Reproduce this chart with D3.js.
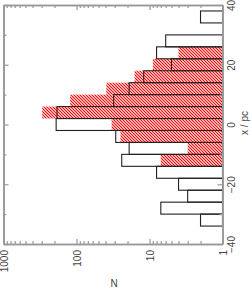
<!DOCTYPE html>
<html>
<head>
<meta charset="utf-8">
<script src="https://cdn.jsdelivr.net/npm/d3@7"></script>
<style>
  body { margin: 0; background: #fff; }
  svg { display: block; }
  text { font-family: "Liberation Sans", Arial, sans-serif; font-size: 10px; fill: #444; }
</style>
</head>
<body>
<svg width="252" height="289"></svg>
<script>
// bin centres in x/pc (bins are 4 pc wide)
var binCenters = [36, 32, 28, 24, 20, 16, 12, 8, 4, 0, -4, -8, -12, -16, -20, -24, -28, -32, -36];
// outlined histogram
var blackN = [2, 0, 6, 8, 5, 12, 19, 31, 185, 190, 29, 19, 24, 8, 4, 3, 7, 2, 0];
// red hatched histogram
var redN = [1, 0, 0, 4, 9, 16, 39, 122, 295, 33, 25, 3, 7, 0, 1, 0, 0, 0, 0];

var nMajor = [1000, 100, 10, 1];
var posTicks = [40, 20, 0, -20, -40];
var binWidth = 4;

var svg = d3.select("svg");

// scales: N on a log axis running right to left, position vertical
var x = d3.scaleLog().domain([1000, 1]).range([3.5, 222.5]);
var y = d3.scaleLinear().domain([40, -40]).range([5, 244]);

// hatch pattern ("\" stripes, 3px period)
var defs = svg.append("defs");
defs.append("pattern")
    .attr("id", "hatch")
    .attr("patternUnits", "userSpaceOnUse")
    .attr("width", 3)
    .attr("height", 3)
  .append("path")
    .attr("d", "M-1,-1L4,4M-1,2L1,4M2,-1L4,1")
    .attr("stroke", "#ff0000")
    .attr("stroke-width", 1.15)
    .attr("fill", "none");

function bars(values) {
  return binCenters.map(function(c, i) { return { c: c, n: values[i] }; })
    .filter(function(d) { return d.n > 1; });
}

// ### red hatched bars
svg.append("g")
  .selectAll("rect")
  .data(bars(redN))
  .enter().append("rect")
    .attr("x", function(d) { return x(d.n); })
    .attr("width", function(d) { return x(1) - x(d.n); })
    .attr("y", function(d) { return y(d.c + binWidth / 2); })
    .attr("height", function(d) { return y(d.c - binWidth / 2) - y(d.c + binWidth / 2); })
    .attr("fill", "url(#hatch)");

// ### black outlined bars
svg.append("g")
  .selectAll("rect")
  .data(bars(blackN))
  .enter().append("rect")
    .attr("x", function(d) { return x(d.n); })
    .attr("width", function(d) { return x(1) - x(d.n); })
    .attr("y", function(d) { return y(d.c + binWidth / 2); })
    .attr("height", function(d) { return y(d.c - binWidth / 2) - y(d.c + binWidth / 2); })
    .attr("fill", "none")
    .attr("stroke", "#222")
    .attr("stroke-width", 1.1);

// ### axes
var minorN = [];
[1, 10, 100].forEach(function(b) {
  for (var k = 2; k <= 9; k++) minorN.push(b * k);
});
var minorPos = [30, 10, -10, -30];

function styleAxis(g) {
  g.select(".domain").attr("stroke", "#999").attr("stroke-width", 1.6);
  g.selectAll(".tick line").attr("stroke", "#999").attr("stroke-width", 1.2);
}

// bottom
var bottom = svg.append("g")
    .attr("transform", "translate(0," + y(-40) + ")")
    .call(d3.axisBottom(x).tickValues(nMajor).tickSize(-5).tickSizeOuter(0)
      .tickFormat(d3.format("d")))
    .call(styleAxis);
bottom.selectAll("text")
    .attr("transform", "rotate(-90)")
    .attr("x", -6).attr("y", 0).attr("dy", "0.35em")
    .attr("text-anchor", "end").attr("fill", "#444");
svg.append("g")
    .attr("transform", "translate(0," + y(-40) + ")")
    .call(d3.axisBottom(x).tickValues(minorN).tickSize(-3).tickSizeOuter(0).tickFormat(""))
    .call(styleAxis);

// top
svg.append("g")
    .attr("transform", "translate(0," + y(40) + ")")
    .call(d3.axisTop(x).tickValues(nMajor).tickSize(-5).tickSizeOuter(0).tickFormat(""))
    .call(styleAxis);
svg.append("g")
    .attr("transform", "translate(0," + y(40) + ")")
    .call(d3.axisTop(x).tickValues(minorN).tickSize(-3).tickSizeOuter(0).tickFormat(""))
    .call(styleAxis);

// left
svg.append("g")
    .attr("transform", "translate(" + x(1000) + ",0)")
    .call(d3.axisLeft(y).tickValues(posTicks).tickSize(-5).tickSizeOuter(0).tickFormat(""))
    .call(styleAxis);
svg.append("g")
    .attr("transform", "translate(" + x(1000) + ",0)")
    .call(d3.axisLeft(y).tickValues(minorPos).tickSize(-3).tickSizeOuter(0).tickFormat(""))
    .call(styleAxis);

// right
var right = svg.append("g")
    .attr("transform", "translate(" + x(1) + ",0)")
    .call(d3.axisRight(y).tickValues(posTicks).tickSize(-5).tickSizeOuter(0))
    .call(styleAxis);
right.selectAll("text")
    .attr("x", 0).attr("y", 0).attr("dy", "0.35em")
    .attr("transform", "translate(9,0) rotate(-90)")
    .attr("text-anchor", "middle").attr("fill", "#444");
svg.append("g")
    .attr("transform", "translate(" + x(1) + ",0)")
    .call(d3.axisRight(y).tickValues(minorPos).tickSize(-3).tickSizeOuter(0).tickFormat(""))
    .call(styleAxis);

// ### axis titles
svg.append("text")
    .attr("x", 114).attr("y", 287)
    .attr("text-anchor", "middle")
    .text("N");
svg.append("text")
    .attr("transform", "translate(244,123) rotate(-90)")
    .attr("text-anchor", "middle")
    .attr("dy", "0.35em")
    .text("x / pc");
</script>
</body>
</html>
